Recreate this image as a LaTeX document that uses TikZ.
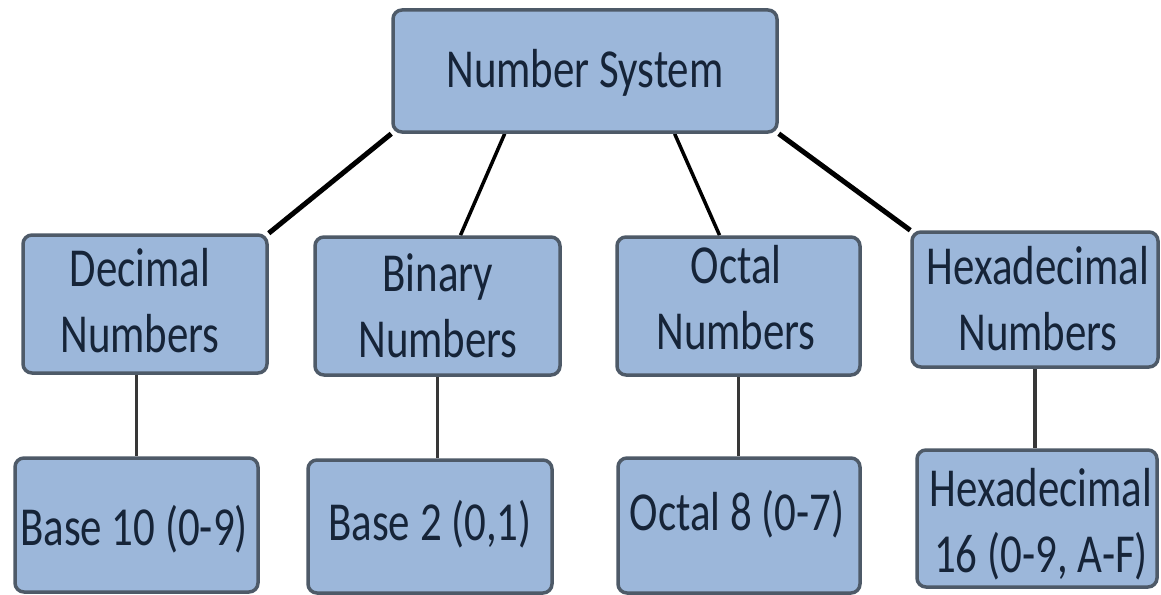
\documentclass[tikz,border=0pt]{standalone}
\usepackage{fontspec}
\setmainfont{Carlito}
\usepackage{graphicx}
\usetikzlibrary{backgrounds}
\definecolor{boxfill}{RGB}{156,183,218}
\definecolor{boxline}{RGB}{78,90,104}
\definecolor{txtcol}{RGB}{22,36,56}
\definecolor{stemcol}{RGB}{55,55,55}
\newcommand{\lbl}[1]{\scalebox{0.78}[1]{\begin{tabular}{@{}c@{}}#1\end{tabular}}}
\tikzset{
  box/.style={draw=boxline, fill=boxfill, line width=3.5pt, rounded corners=9pt, inner sep=0pt},
  txt/.style={text=txtcol, font=\fontsize{55}{66}\selectfont, inner sep=0pt},
  mainline/.style={line width=5pt, black},
  sideline/.style={line width=3.5pt, black},
  stemline/.style={line width=3.5pt, stemcol},
}
\begin{document}
\begin{tikzpicture}[x=1pt,y=-1pt]
\useasboundingbox (0,0) rectangle (1161,594);
% boxes
\node[box, minimum width=384pt, minimum height=122pt] (top) at (585,71) {};
\node[box, minimum width=244pt, minimum height=138pt] (dec) at (145,304) {};
\node[box, minimum width=245pt, minimum height=138pt] (bin) at (437.5,306) {};
\node[box, minimum width=243pt, minimum height=138pt] (oct) at (738.5,306) {};
\node[box, minimum width=246pt, minimum height=135pt] (hex) at (1035,299.5) {};
\node[box, minimum width=243pt, minimum height=134pt] (b10) at (136.5,525) {};
\node[box, minimum width=244pt, minimum height=133pt] (b2) at (430,526.5) {};
\node[box, minimum width=242pt, minimum height=135pt] (o8) at (739,525.5) {};
\node[box, minimum width=240pt, minimum height=137pt] (h16) at (1037,518.5) {};
% texts
\node[txt] (ttop) at (585,73.8) {\lbl{Number System}};
\node[txt] (tdec) at (140,306) {\lbl{Decimal\\Numbers}};
\node[txt] (tbin) at (438,311) {\lbl{Binary\\Numbers}};
\node[txt] (toct) at (736,303) {\lbl{Octal\\Numbers}};
\node[txt] (thex) at (1038,304.5) {\lbl{Hexadecimal\\Numbers}};
\node[txt] (tb10) at (134,531.8) {\lbl{Base 10 (0-9)}};
\node[txt] (tb2) at (430,526.8) {\lbl{Base 2 (0,1)}};
\node[txt] (to8) at (737,516.8) {\lbl{Octal 8 (0-7)}};
\node[txt] (th16) at (1041,526) {\lbl{Hexadecimal\\16 (0-9, A-F)}};
% connectors
\begin{pgfonlayer}{background}
\fill[white] (0,0) rectangle (1161,594);
\draw[mainline] (top.south west) -- (dec.north east);
\draw[sideline] (top.218) -- (bin.72);
\draw[sideline] (top.325) -- (oct.105);
\draw[mainline] (top.south east) -- (hex.north west);
\draw[stemline] (dec.south -| b10.north) -- (b10.north);
\draw[stemline] (bin.south) -- (bin.south |- b2.north);
\draw[stemline] (oct.south) -- (oct.south |- o8.north);
\draw[stemline] (hex.south) -- (hex.south |- h16.north);
\end{pgfonlayer}
\end{tikzpicture}
\end{document}
